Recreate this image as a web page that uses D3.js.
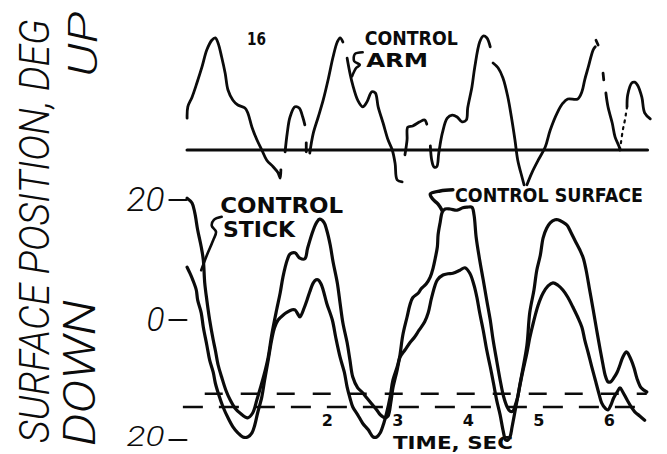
<!DOCTYPE html>
<html>
<head>
<meta charset="utf-8">
<script src="https://cdn.jsdelivr.net/npm/d3@7"></script>
<style>
  html, body { margin: 0; padding: 0; background: #fff; }
  svg { display: block; }
</style>
</head>
<body>
<svg id="chart" width="667" height="454"></svg>
<script>
// Time in seconds, positions in degrees (up positive).

// Time-axis tick labels
const timeTicks = [2, 3, 4, 5, 6];
// Surface-position ticks (the lower "20" is 20 deg down)
const surfaceTicks = [20, 0, -20];
const surfaceTickLabels = ["20", "0", "20"];
// Dashed reference levels, deg
const limitLevels = [-12.3, -14.5];
const limitStarts = [0.26, -0.05];

// Control arm trace (upper record), broken into pen strokes
const armStroke1 = [[0.01,5.3],[0.02,7.2],[0.08,8.8],[0.15,11.2],[0.22,13.8],[0.29,16.7],[0.36,18.3],[0.41,18.7],[0.45,17.8],[0.50,15.5],[0.55,12.8],[0.59,10.0],[0.66,8.3],[0.73,7.5],[0.83,7.0],[0.87,6.2],[0.93,3.8],[1.00,1.7],[1.07,0],[1.14,-1.7],[1.23,-2.8],[1.30,-3.8],[1.33,-4.7],[1.34,-3.3]];
const armStroke2 = [[1.40,-0.3],[1.43,2.8],[1.47,5.5],[1.54,7.2],[1.60,7.0],[1.65,5.5],[1.68,4.2]];
const armStroke3 = [[1.70,1.2],[1.70,-0.3]];
const armStroke4 = [[1.75,-0.5],[1.80,2.8],[1.87,5.5],[1.94,8.3],[2.01,11.7],[2.08,15.5],[2.14,18.0],[2.18,18.7],[2.22,18.0]];
const armStroke5 = [[2.28,15.3],[2.32,12.8],[2.36,10.8],[2.43,8.3],[2.50,7.2],[2.56,8.0],[2.63,9.7],[2.68,9.5],[2.72,7.2],[2.79,4.5],[2.86,1.7],[2.92,0],[2.96,-2.2],[2.99,-5.0],[3.06,-5.3]];
const armStroke6 = [[3.10,-0.8],[3.13,1.7],[3.14,3.8],[3.21,4.0],[3.31,4.7],[3.38,5.0],[3.41,4.3]];
const armStroke7 = [[3.46,0.7],[3.48,-1.7],[3.51,-2.8],[3.55,-2.8],[3.58,-0.5],[3.63,2.8],[3.70,5.3],[3.77,5.8],[3.84,5.5],[3.91,4.7],[3.97,5.0],[3.99,7.0],[4.05,10.5],[4.09,13.8],[4.16,18.0],[4.21,19.0],[4.26,18.7],[4.31,17.2]];
const armStroke8 = [[4.35,14.5],[4.42,13.7],[4.49,12.0],[4.56,8.8],[4.61,5.5],[4.66,1.7],[4.70,-1.7],[4.76,-4.5],[4.79,-5.8]];
const armStroke9 = [[4.83,-5.8],[4.90,-3.8],[4.99,-1.7],[5.09,0.5],[5.16,3.3],[5.26,6.2],[5.34,7.8],[5.41,8.5],[5.55,8.5],[5.61,9.7],[5.65,11.7],[5.70,13.8],[5.77,16.7],[5.80,17.2]];
const armStroke10 = [[5.81,18.3],[5.84,17.5]];
const armStroke11 = [[5.91,12.8],[5.92,11.7]];
const armStroke12 = [[5.95,9.5],[5.98,7.2],[6.04,4.5],[6.08,2.2],[6.14,0.5],[6.15,0]];
const armStroke13 = [[6.25,7.2],[6.26,9.2],[6.32,11.2],[6.36,11.3],[6.40,10.8],[6.46,8.8],[6.50,6.2],[6.58,5.2]];
const armFaint = [[6.15,0],[6.19,3.3],[6.22,5.0],[6.25,7.2]];

// Larger-amplitude surface record
const traceA = [[0.01,20.3],[0.08,19.5],[0.12,17.8],[0.16,15.0],[0.21,12.2],[0.24,10.0],[0.26,6.2],[0.29,3.3],[0.33,0],[0.38,-3.3],[0.41,-5.0],[0.45,-7.5],[0.50,-9.5],[0.56,-11.7],[0.62,-13.3],[0.69,-14.7],[0.76,-15.5],[0.87,-16.3],[0.94,-15.5],[1.00,-13.3],[1.04,-11.7],[1.10,-9.2],[1.16,-6.2],[1.21,-2.5],[1.28,1.7],[1.33,4.5],[1.37,7.2],[1.43,10.0],[1.47,11.0],[1.54,11.2],[1.61,10.3],[1.68,10.2],[1.72,12.0],[1.80,15.0],[1.85,16.3],[1.89,16.8],[1.95,16.3],[1.99,15.0],[2.04,12.5],[2.08,9.7],[2.14,6.2],[2.18,2.8],[2.22,-0.5],[2.28,-3.8],[2.32,-6.7],[2.36,-9.5],[2.43,-11.3],[2.49,-12.0],[2.56,-13.0],[2.63,-14.0],[2.70,-15.0],[2.75,-15.8],[2.82,-16.3],[2.86,-16.0],[2.90,-13.7],[2.93,-11.3],[2.99,-8.3],[3.03,-5.8],[3.07,-2.5],[3.13,0.5],[3.17,2.5],[3.21,3.7],[3.29,4.5],[3.33,5.2],[3.40,6.0],[3.46,7.2],[3.50,8.7],[3.53,10.3],[3.56,12.2],[3.57,14.2],[3.60,16.3],[3.63,18.0],[3.67,18.5],[3.74,18.5],[3.84,18.3],[3.92,18.7],[3.98,18.8],[4.05,18.8],[4.08,17.5],[4.11,13.8],[4.16,10.0],[4.21,6.7],[4.26,3.3],[4.31,0],[4.35,-3.3],[4.40,-6.7],[4.45,-10.0],[4.50,-12.8],[4.55,-14.5],[4.59,-15.2],[4.63,-15.2],[4.67,-14.0],[4.70,-12.8],[4.73,-10.8],[4.77,-8.3],[4.83,-4.2],[4.87,1.2],[4.93,5.0],[4.97,8.3],[5.02,10.8],[5.06,13.7],[5.11,15.3],[5.16,16.2],[5.23,16.7],[5.27,16.7],[5.34,16.3],[5.40,15.8],[5.45,14.7],[5.51,13.3],[5.58,11.7],[5.63,10.3],[5.67,8.3],[5.72,5.0],[5.77,1.7],[5.82,-1.7],[5.87,-5.0],[5.91,-7.5],[5.94,-9.2],[5.98,-10.3],[6.02,-10.3],[6.06,-9.7],[6.11,-8.7],[6.15,-7.5],[6.19,-6.2],[6.24,-5.3],[6.26,-5.5],[6.31,-6.7],[6.35,-8.0],[6.39,-9.7],[6.45,-11.3],[6.53,-12.0]];

// Smaller-amplitude surface record
const traceB = [[0.01,8.8],[0.05,7.8],[0.09,6.7],[0.14,5.0],[0.16,3.3],[0.21,1.2],[0.24,-1.2],[0.29,-4.2],[0.33,-6.7],[0.38,-8.7],[0.41,-10.5],[0.46,-12.5],[0.52,-14.5],[0.59,-16.3],[0.66,-17.8],[0.73,-18.8],[0.80,-19.5],[0.87,-19.5],[0.93,-18.8],[0.97,-17.5],[1.01,-15.5],[1.07,-12.8],[1.11,-10.0],[1.16,-6.7],[1.21,-3.3],[1.25,-1.3],[1.30,0],[1.37,0.8],[1.43,1.3],[1.50,1.7],[1.54,1.7],[1.58,1.0],[1.61,0.5],[1.67,2.0],[1.71,3.3],[1.75,4.7],[1.80,6.2],[1.84,6.7],[1.87,6.7],[1.91,6.0],[1.94,5.0],[1.99,2.8],[2.07,0],[2.12,-3.0],[2.18,-6.2],[2.24,-8.7],[2.28,-11.2],[2.32,-13.0],[2.36,-14.5],[2.43,-15.8],[2.50,-17.2],[2.58,-18.3],[2.65,-19.5],[2.70,-19.5],[2.75,-18.8],[2.80,-17.2],[2.84,-15.5],[2.89,-12.8],[2.93,-10.0],[2.99,-7.8],[3.03,-6.2],[3.10,-5.0],[3.17,-3.8],[3.24,-2.8],[3.30,-1.7],[3.38,-0.3],[3.43,1.2],[3.48,3.8],[3.56,6.7],[3.64,7.5],[3.71,7.7],[3.78,7.8],[3.88,8.3],[3.95,8.7],[4.02,7.8],[4.08,5.8],[4.12,3.8],[4.16,1.2],[4.21,-1.7],[4.26,-5.0],[4.31,-7.8],[4.36,-10.8],[4.40,-13.3],[4.45,-15.8],[4.49,-18.3],[4.53,-20.0],[4.56,-20.0],[4.59,-19.5],[4.62,-17.8],[4.66,-15.3],[4.70,-12.8],[4.76,-9.2],[4.83,-5.5],[4.87,-3.0],[4.92,-0.5],[4.99,2.5],[5.06,4.5],[5.13,5.7],[5.20,6.2],[5.27,5.8],[5.34,5.0],[5.41,3.8],[5.48,2.2],[5.55,0.5],[5.61,-1.2],[5.65,-3.3],[5.70,-5.5],[5.75,-7.8],[5.80,-10.0],[5.85,-12.2],[5.89,-13.8],[5.94,-14.7],[5.98,-15.0],[6.02,-14.2],[6.06,-13.0],[6.11,-12.0],[6.15,-11.3],[6.19,-12.0],[6.25,-13.3],[6.31,-14.5],[6.36,-15.3],[6.43,-16.0],[6.50,-16.7]];

// Leader lines for the hand-lettered notes
const armLeader = [[2.50,16.3],[2.39,16.0],[2.38,14.8],[2.46,14.2],[2.41,13.7],[2.35,12.3]];
const stickLeader = [[0.50,17.2],[0.39,16.7],[0.36,15.7],[0.42,14.7],[0.38,13.3],[0.29,10.8],[0.21,8.3]];
const surfaceLeader = [[3.78,21.7],[3.60,21.5],[3.46,21.0],[3.49,20.2],[3.57,19.3],[3.63,18.2]];

const svg = d3.select("#chart");

const x = d3.scaleLinear().domain([0, 6.5]).range([186.4, 644.65]);
const yTop = d3.scaleLinear().domain([0, 20]).range([150, 30]);
const yLow = d3.scaleLinear().domain([-20, 20]).range([440, 200]);

const ink = "#0b0b0b";
const thinFont = "Roboto, 'Open Sans', 'DejaVu Sans', sans-serif";
const lineTop = d3.line().x(d => x(d[0])).y(d => yTop(d[1])).curve(d3.curveCatmullRom.alpha(0.5));
const lineLow = d3.line().x(d => x(d[0])).y(d => yLow(d[1])).curve(d3.curveCatmullRom.alpha(0.5));

const g = svg.append("g").attr("fill", "none").attr("stroke", ink)
  .attr("stroke-linecap", "round").attr("stroke-linejoin", "round");

// ---- upper record: control arm ----
g.append("line")
  .attr("x1", x(0.01)).attr("x2", x(6.54))
  .attr("y1", yTop(0)).attr("y2", yTop(0))
  .attr("stroke-width", 3.2);

[armStroke1, armStroke2, armStroke3, armStroke4, armStroke5, armStroke6, armStroke7,
 armStroke8, armStroke9, armStroke10, armStroke11, armStroke12, armStroke13]
  .forEach(s => g.append("path").attr("d", lineTop(s)).attr("stroke-width", 2.8));
g.append("path").attr("d", lineTop(armFaint)).attr("stroke-width", 2.2).attr("stroke-dasharray", "2,5");
g.append("path").attr("d", lineTop(armLeader)).attr("stroke-width", 2.6);

// ---- lower record: surface positions ----
limitLevels.forEach((lv, i) => {
  g.append("line")
    .attr("x1", x(limitStarts[i])).attr("x2", x(6.53))
    .attr("y1", yLow(lv)).attr("y2", yLow(lv))
    .attr("stroke-width", 2.6).attr("stroke-linecap", "butt")
    .attr("stroke-dasharray", i === 0 ? "18,18" : "20,16");
});

g.append("path").attr("d", lineLow(traceA)).attr("stroke-width", 3.2);
g.append("path").attr("d", lineLow(traceB)).attr("stroke-width", 3.2);
g.append("path").attr("d", lineLow(stickLeader)).attr("stroke-width", 2.6);
g.append("path").attr("d", lineLow(surfaceLeader)).attr("stroke-width", 3.4);

// ---- vertical axis ticks and labels ----
surfaceTicks.forEach((v, i) => {
  g.append("line")
    .attr("x1", x(0) - 17).attr("x2", x(0))
    .attr("y1", yLow(v)).attr("y2", yLow(v))
    .attr("stroke-width", 2.2);
  svg.append("text")
    .attr("x", x(0) - 22).attr("y", yLow(v) + (v < 0 ? 6 : 11))
    .attr("text-anchor", "end")
    .attr("font-family", thinFont)
    .attr("font-style", "italic").attr("font-weight", 300)
    .attr("font-size", v < 0 ? 27 : 33)
    .attr("textLength", surfaceTickLabels[i].length > 1 ? 38 : 18)
    .attr("lengthAdjust", "spacingAndGlyphs")
    .attr("fill", ink)
    .text(surfaceTickLabels[i]);
});

// ---- time axis labels ----
const hand = sel => sel.attr("font-family", "DejaVu Sans").attr("font-weight", 700).attr("fill", ink);
timeTicks.forEach(t => {
  svg.append("text").call(hand)
    .attr("x", x(t)).attr("y", 426)
    .attr("text-anchor", "middle").attr("font-size", 16)
    .text(String(t));
});
svg.append("text").call(hand)
  .attr("x", x(2.93)).attr("y", 449).attr("font-size", 18)
  .attr("textLength", 120).attr("lengthAdjust", "spacingAndGlyphs")
  .text("TIME, SEC");

// ---- notes ----
const note = (t, v, yScale, txt, len, size) => svg.append("text").call(hand)
  .attr("x", x(t)).attr("y", yScale(v)).attr("font-size", size)
  .attr("textLength", len).attr("lengthAdjust", "spacingAndGlyphs").text(txt);

note(0.86, 17.5, yTop, "16", 19, 17);
note(2.53, 17.5, yTop, "CONTROL", 93, 19);
note(2.55, 13.8, yTop, "ARM", 62, 19);
note(0.48, 17.8, yLow, "CONTROL", 123, 21);
note(0.52, 13.8, yLow, "STICK", 72, 22);
note(3.81, 19.7, yLow, "CONTROL SURFACE", 188, 19);

// ---- rotated axis title (tall, narrow lettering) ----
const title = (cx, y0, txt, len, size, stretch, anchor) => svg.append("text")
  .attr("transform", `translate(${cx},${y0}) rotate(-90) scale(1,${stretch})`)
  .attr("text-anchor", anchor)
  .attr("font-family", thinFont)
  .attr("font-style", "italic").attr("font-weight", 300)
  .attr("font-size", size)
  .attr("textLength", len).attr("lengthAdjust", "spacingAndGlyphs")
  .attr("fill", ink)
  .text(txt);

title(49, 443, "SURFACE POSITION, DEG", 424, 35, 1.2, "start");
title(97, 12, "UP", 65, 41, 1, "end");
title(95, 446, "DOWN", 146, 44, 1, "start");
</script>
</body>
</html>
